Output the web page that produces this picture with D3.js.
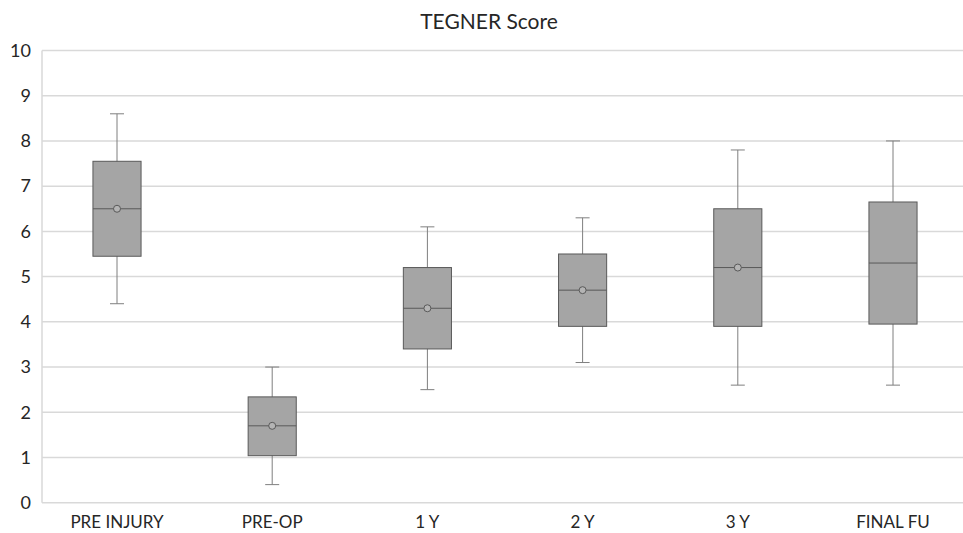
<!DOCTYPE html>
<html>
<head>
<meta charset="utf-8">
<script src="https://cdn.jsdelivr.net/npm/d3@7"></script>
<style>
  body { margin: 0; background: #fff; }
  svg { display: block; font-family: Lato, "Open Sans", sans-serif; }
</style>
</head>
<body>
<svg id="chart" width="963" height="533"></svg>
<script>
// data
var categories = ["PRE INJURY", "PRE-OP", "1 Y", "2 Y", "3 Y", "FINAL FU"];
var whiskerLow = [4.4, 0.4, 2.5, 3.1, 2.6, 2.6];
var q1Values = [5.45, 1.04, 3.4, 3.9, 3.9, 3.95];
var medianValues = [6.5, 1.7, 4.3, 4.7, 5.2, 5.3];
var q3Values = [7.55, 2.34, 5.2, 5.5, 6.5, 6.65];
var whiskerHigh = [8.6, 3.0, 6.1, 6.3, 7.8, 8.0];
var meanValues = [6.5, 1.7, 4.3, 4.7, 5.2, null];
var yTicks = [0, 1, 2, 3, 4, 5, 6, 7, 8, 9, 10];

var svg = d3.select("#chart"),
    gridLeft = 42, gridRight = 963,
    plotTop = 50.5, plotBottom = 502.7;

var x = d3.scaleBand()
    .domain(categories)
    .range([39.4, 970.6])
    .paddingInner(0.69)
    .paddingOuter(0.345);

var y = d3.scaleLinear().domain([0, 10]).range([plotBottom, plotTop]);

// title
svg.append("text")
    .attr("x", 489).attr("y", 29)
    .attr("text-anchor", "middle")
    .attr("font-size", 21)
    .attr("fill", "#262626")
    .text("TEGNER Score");

// grid
svg.append("g").selectAll("line")
    .data(yTicks)
    .join("line")
    .attr("x1", gridLeft).attr("x2", gridRight)
    .attr("y1", function(d){ return y(d); })
    .attr("y2", function(d){ return y(d); })
    .attr("stroke", "#d9d9d9")
    .attr("stroke-width", 1.5);

svg.append("line")
    .attr("x1", gridLeft).attr("x2", gridLeft)
    .attr("y1", y(10)).attr("y2", y(0))
    .attr("stroke", "#d9d9d9")
    .attr("stroke-width", 1.5);

// y axis labels
var yAxis = svg.append("g")
    .attr("transform", "translate(" + gridLeft + ",0)")
    .call(d3.axisLeft(y).tickValues(yTicks).tickSize(0).tickPadding(11));
yAxis.select(".domain").remove();
yAxis.selectAll("text")
    .attr("font-size", 18)
    .attr("font-family", "Lato, 'Open Sans', sans-serif")
    .attr("fill", "#262626");

// x axis labels
var xAxis = svg.append("g")
    .attr("transform", "translate(0," + plotBottom + ")")
    .call(d3.axisBottom(x).tickSize(0).tickPadding(13));
xAxis.select(".domain").remove();
xAxis.selectAll("text")
    .attr("font-size", 17)
    .attr("font-family", "Lato, 'Open Sans', sans-serif")
    .attr("fill", "#262626");

// boxes
var boxes = svg.append("g").selectAll("g")
    .data(categories)
    .join("g");

var capW = 14;
var cx = function(d){ return x(d) + x.bandwidth() / 2; };

boxes.append("line")
    .attr("x1", cx).attr("x2", cx)
    .attr("y1", function(d, i){ return y(whiskerHigh[i]); })
    .attr("y2", function(d, i){ return y(whiskerLow[i]); })
    .attr("stroke", "#7f7f7f");

boxes.append("line")
    .attr("x1", function(d){ return cx(d) - capW / 2; })
    .attr("x2", function(d){ return cx(d) + capW / 2; })
    .attr("y1", function(d, i){ return y(whiskerHigh[i]); })
    .attr("y2", function(d, i){ return y(whiskerHigh[i]); })
    .attr("stroke", "#7f7f7f");

boxes.append("line")
    .attr("x1", function(d){ return cx(d) - capW / 2; })
    .attr("x2", function(d){ return cx(d) + capW / 2; })
    .attr("y1", function(d, i){ return y(whiskerLow[i]); })
    .attr("y2", function(d, i){ return y(whiskerLow[i]); })
    .attr("stroke", "#7f7f7f");

boxes.append("rect")
    .attr("x", function(d){ return x(d); })
    .attr("width", x.bandwidth())
    .attr("y", function(d, i){ return y(q3Values[i]); })
    .attr("height", function(d, i){ return y(q1Values[i]) - y(q3Values[i]); })
    .attr("fill", "#a5a5a5")
    .attr("stroke", "#595959")
    .attr("stroke-width", 1);

boxes.append("line")
    .attr("x1", function(d){ return x(d); })
    .attr("x2", function(d){ return x(d) + x.bandwidth(); })
    .attr("y1", function(d, i){ return y(medianValues[i]); })
    .attr("y2", function(d, i){ return y(medianValues[i]); })
    .attr("stroke", "#595959");

boxes.filter(function(d, i){ return meanValues[i] != null; })
    .append("circle")
    .attr("cx", cx)
    .attr("cy", function(d){ return y(meanValues[categories.indexOf(d)]); })
    .attr("r", 3.5)
    .attr("fill", "#b4b4b4")
    .attr("stroke", "#595959");
</script>
</body>
</html>
